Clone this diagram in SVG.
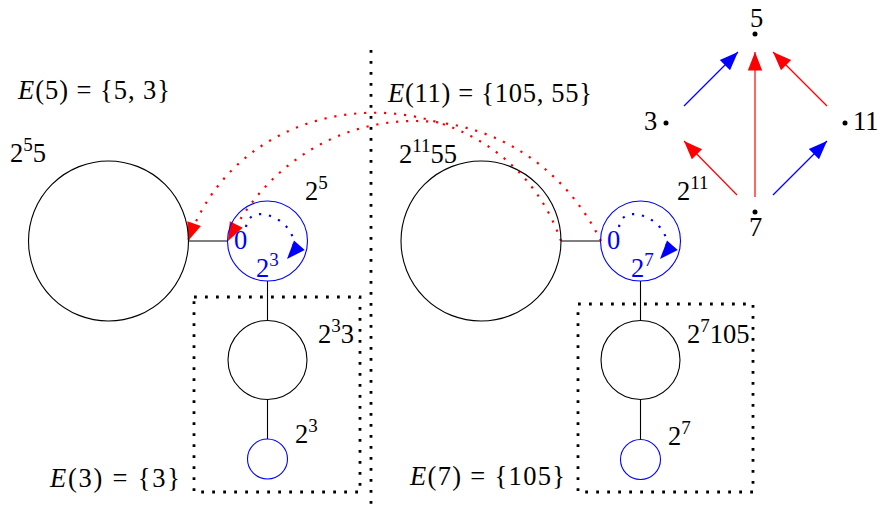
<svg xmlns="http://www.w3.org/2000/svg" width="879" height="512" viewBox="0 0 879 512">
<defs>
<style>
.lt{font-family:'Liberation Serif','DejaVu Serif',serif;font-size:26.5px}
.b{fill:#0000ff}
.s{font-size:19px}
.i{font-style:italic}
.k{stroke:#000000;stroke-width:1.1;fill:none}
.cb{stroke:#0000ff;stroke-width:1.1;fill:none}
.kd{stroke:#000000;stroke-width:2.8;stroke-dasharray:2.8 8.2;fill:none}
.rd{stroke:#ff0000;stroke-width:2.2;stroke-dasharray:2.2 7.8;fill:none}
.bd{stroke:#0000ff;stroke-width:2.2;stroke-dasharray:2.2 7.8;fill:none}
.ra{stroke:#ff0000;stroke-width:1.2;fill:none}
.ba{stroke:#0000ff;stroke-width:1.2;fill:none}
</style>
<marker id="mr" markerUnits="userSpaceOnUse" viewBox="-19 -8 20 16" refX="0" refY="0" markerWidth="20" markerHeight="16" orient="auto">
<path d="M0,0 L-18.5,-7.2 L-18.5,7.2 z" fill="#ff0000"/>
</marker>
<marker id="mb" markerUnits="userSpaceOnUse" viewBox="-19 -8 20 16" refX="0" refY="0" markerWidth="20" markerHeight="16" orient="auto">
<path d="M0,0 L-18.5,-7.2 L-18.5,7.2 z" fill="#0000ff"/>
</marker>
</defs>
<rect width="879" height="512" fill="#ffffff"/>

<g id="frames">
<line class="kd" x1="371" y1="50" x2="371" y2="512"/>
<rect class="kd" x="194" y="297" width="166" height="195"/>
<rect class="kd" x="578" y="304" width="175" height="188"/>
</g>

<g id="set-labels">
<text class="lt" x="18" y="99" textLength="152"><tspan class="i">E</tspan>(5) = {5, 3}</text>
<text class="lt" x="388" y="102" textLength="204"><tspan class="i">E</tspan>(11) = {105, 55}</text>
<text class="lt" x="50" y="487" textLength="130"><tspan class="i">E</tspan>(3) = {3}</text>
<text class="lt" x="410" y="485" textLength="155"><tspan class="i">E</tspan>(7) = {105}</text>
</g>

<g id="connectors">
<line class="k" x1="188" y1="241" x2="227.5" y2="241"/>
<line class="k" x1="267.5" y1="281" x2="267.5" y2="320.5"/>
<line class="k" x1="267.5" y1="399.5" x2="267.5" y2="439"/>
<line class="k" x1="561" y1="241" x2="600.5" y2="241"/>
<line class="k" x1="640.5" y1="281" x2="640.5" y2="320.5"/>
<line class="k" x1="640.5" y1="399.5" x2="640.5" y2="439.5"/>
<path class="rd" d="M561,241 C501,70 248,70 188,241" marker-end="url(#mr)"/>
<path class="rd" d="M601,241 C521,81 308,81 228,241" marker-end="url(#mr)"/>
<path class="bd" d="M246,227 C250,195 314,229 287,259" marker-end="url(#mb)"/>
<path class="bd" d="M619,227 C623,195 687,229 660,259" marker-end="url(#mb)"/>
<line class="ba" x1="684" y1="106" x2="738" y2="52" marker-end="url(#mb)"/>
<line class="ra" x1="755" y1="197" x2="755" y2="52" marker-end="url(#mr)"/>
<line class="ra" x1="827" y1="106" x2="773" y2="52" marker-end="url(#mr)"/>
<line class="ra" x1="737" y1="195" x2="684" y2="141" marker-end="url(#mr)"/>
<line class="ba" x1="773" y1="195" x2="827" y2="141" marker-end="url(#mb)"/>
</g>

<g id="n-2p5-5">
<circle class="k" cx="108.5" cy="241" r="80"/>
<text class="lt" x="10" y="162">2<tspan class="s" dy="-11">5</tspan><tspan dy="11">5</tspan></text>
</g>
<g id="n-2p5">
<circle class="cb" cx="267.5" cy="241" r="40"/>
<text class="lt" x="305" y="200">2<tspan class="s" dy="-11">5</tspan></text>
<text class="lt b" x="234" y="249">0</text>
<text class="lt b" x="256" y="277">2<tspan class="s" dy="-11">3</tspan></text>
</g>
<g id="n-2p3-3">
<circle class="k" cx="267.5" cy="360" r="39.5"/>
<text class="lt" x="318" y="343">2<tspan class="s" dy="-11">3</tspan><tspan dy="11">3</tspan></text>
</g>
<g id="n-2p3">
<circle class="cb" cx="267.5" cy="459" r="20"/>
<text class="lt" x="295" y="443">2<tspan class="s" dy="-11">3</tspan></text>
</g>

<g id="n-2p11-55">
<circle class="k" cx="481" cy="241" r="80"/>
<text class="lt" x="399" y="163">2<tspan class="s" dy="-11">11</tspan><tspan dy="11">55</tspan></text>
</g>
<g id="n-2p11">
<circle class="cb" cx="640.5" cy="241" r="40"/>
<text class="lt" x="677" y="200">2<tspan class="s" dy="-11">11</tspan></text>
<text class="lt b" x="607" y="249">0</text>
<text class="lt b" x="631" y="277">2<tspan class="s" dy="-11">7</tspan></text>
</g>
<g id="n-2p7-105">
<circle class="k" cx="640.5" cy="360" r="39.5"/>
<text class="lt" x="687" y="343">2<tspan class="s" dy="-11">7</tspan><tspan dy="11">105</tspan></text>
</g>
<g id="n-2p7">
<circle class="cb" cx="640.5" cy="459.5" r="20"/>
<text class="lt" x="668" y="445">2<tspan class="s" dy="-11">7</tspan></text>
</g>

<g id="g5">
<circle cx="755" cy="34" r="2.5" fill="#000000"/>
<text class="lt" x="750" y="27">5</text>
</g>
<g id="g3">
<circle cx="666" cy="123" r="2.5" fill="#000000"/>
<text class="lt" x="644" y="130">3</text>
</g>
<g id="g11">
<circle cx="845" cy="123" r="2.5" fill="#000000"/>
<text class="lt" x="853" y="130">11</text>
</g>
<g id="g7">
<circle cx="755" cy="212" r="2.5" fill="#000000"/>
<text class="lt" x="749" y="236">7</text>
</g>
</svg>
